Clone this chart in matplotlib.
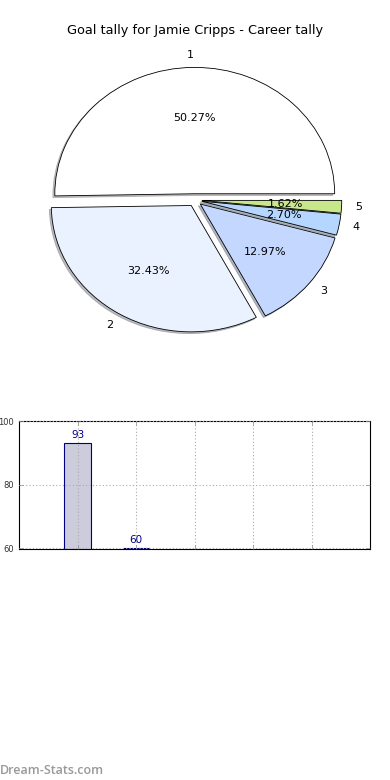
import matplotlib
matplotlib.use("Agg")
import matplotlib.pyplot as plt

# career goal tally
slice_labels = ['1', '2', '3', '4', '5']
goals = [93, 60, 24, 5, 3]
pie_colors = ['#ffffff', '#eaf1ff', '#c4d8ff', '#b4d6ff', '#c8e68a']
bar_pos = [1, 2, 3, 4, 5]

fig = plt.figure(figsize=(3.9, 7.8), dpi=100)

# pie on top
ax1 = fig.add_axes([0.051, 0.541, 0.897, 0.405])
wedges, texts, autotexts = ax1.pie(
    goals, labels=slice_labels, colors=pie_colors, autopct='%1.2f%%',
    explode=[0.05] * len(goals),
    shadow={'ox': -0.01, 'oy': -0.01, 'shade': 0.5}, startangle=0,
    wedgeprops={'edgecolor': 'black', 'linewidth': 0.6},
    textprops={'fontsize': 8})
ax1.set_aspect('auto')
ax1.set_xlim(-1.25, 1.25)
ax1.set_ylim(-1.25, 1.25)
ax1.set_title('Goal tally for Jamie Cripps - Career tally', fontsize=9.3, pad=6)

# bar chart below
ax2 = fig.add_axes([0.049, 0.296, 0.9, 0.164])
ax2.bar(bar_pos, goals, width=0.45, color='#ccccdd', edgecolor='navy',
        linewidth=0.8, zorder=2)
for x, g in zip(bar_pos, goals):
    ax2.text(x, g + 1, str(g), ha='center', va='bottom', color='navy',
             fontsize=7.5, clip_on=True, zorder=4)
ax2.set_xlim(0, 6)
ax2.set_ylim(59.7, 100)
ax2.set_yticks([60, 80, 100])
ax2.set_xticks(bar_pos)
ax2.set_xticklabels([])
ax2.tick_params(axis='both', direction='in', length=3, labelsize=6,
                labelcolor='#333333', top=True, right=True, width=0.5,
                color='#888888')
ax2.set_axisbelow(False)
ax2.grid(True, linestyle=(0, (1, 2)), color='#aaaaaa', linewidth=0.8)
for s in ax2.spines.values():
    s.set_linewidth(0.8)

fig.text(0.0, 0.004, 'Dream-Stats.com', color='#999999', fontsize=9,
         family=['Open Sans', 'DejaVu Sans'], weight='semibold',
         ha='left', va='bottom')

fig.savefig('out.png', dpi=100)
